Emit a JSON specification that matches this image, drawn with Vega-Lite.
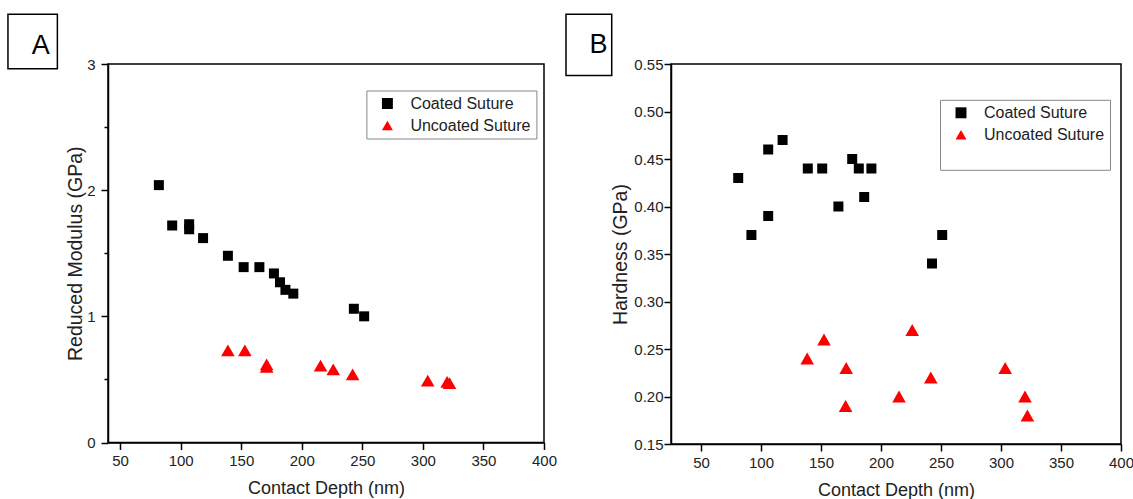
{
  "$schema": "https://vega.github.io/schema/vega-lite/v6.json",
  "background": "white",
  "padding": {"left": 6, "top": 12, "right": 0, "bottom": 0},
  "bounds": "flush",
  "spacing": 127,
  "config": {
    "view": {"stroke": "black", "strokeWidth": 1.5},
    "axis": {
      "labelFont": "Liberation Sans",
      "titleFont": "Liberation Sans",
      "labelFontSize": 15,
      "titleFontSize": 18,
      "labelColor": "#222222",
      "titleColor": "#222222",
      "titleFontWeight": "normal",
      "domainColor": "black",
      "domainWidth": 1.5,
      "tickColor": "black",
      "tickWidth": 1.5,
      "grid": false,
      "labelFlush": false,
      "labelOverlap": false
    },
    "legend": {
      "orient": "none",
      "title": null,
      "strokeColor": "#888888",
      "strokeWidth": 1,
      "padding": 5,
      "labelFont": "Liberation Sans",
      "labelFontSize": 16,
      "labelColor": "#222222",
      "symbolSize": 120,
      "symbolStrokeWidth": 0,
      "symbolOffset": 8,
      "labelOffset": 15,
      "rowPadding": 6
    }
  },
  "resolve": {
    "scale": {"color": "independent", "shape": "independent"},
    "legend": {"color": "independent", "shape": "independent"}
  },
  "hconcat": [
    {
      "width": 436,
      "height": 378.5,
      "data": {"values": [
        {"series": "Coated Suture", "depth": 82, "modulus": 2.04},
        {"series": "Coated Suture", "depth": 93, "modulus": 1.72},
        {"series": "Coated Suture", "depth": 107, "modulus": 1.73},
        {"series": "Coated Suture", "depth": 107, "modulus": 1.69},
        {"series": "Coated Suture", "depth": 118.5, "modulus": 1.62},
        {"series": "Coated Suture", "depth": 139, "modulus": 1.48},
        {"series": "Coated Suture", "depth": 152, "modulus": 1.39},
        {"series": "Coated Suture", "depth": 165, "modulus": 1.39},
        {"series": "Coated Suture", "depth": 177, "modulus": 1.34},
        {"series": "Coated Suture", "depth": 182, "modulus": 1.27},
        {"series": "Coated Suture", "depth": 186.5, "modulus": 1.21},
        {"series": "Coated Suture", "depth": 193, "modulus": 1.18},
        {"series": "Coated Suture", "depth": 243, "modulus": 1.06},
        {"series": "Coated Suture", "depth": 251.5, "modulus": 1.0},
        {"series": "Uncoated Suture", "depth": 139, "modulus": 0.73},
        {"series": "Uncoated Suture", "depth": 153, "modulus": 0.73},
        {"series": "Uncoated Suture", "depth": 171, "modulus": 0.62},
        {"series": "Uncoated Suture", "depth": 171, "modulus": 0.6},
        {"series": "Uncoated Suture", "depth": 215.5, "modulus": 0.61},
        {"series": "Uncoated Suture", "depth": 226, "modulus": 0.58},
        {"series": "Uncoated Suture", "depth": 242, "modulus": 0.54},
        {"series": "Uncoated Suture", "depth": 304, "modulus": 0.49},
        {"series": "Uncoated Suture", "depth": 320, "modulus": 0.48},
        {"series": "Uncoated Suture", "depth": 322, "modulus": 0.47}
      ]},
      "layer": [
        {
          "mark": {"type": "point", "filled": true, "opacity": 1, "strokeWidth": 0},
          "encoding": {
            "x": {
              "field": "depth", "type": "quantitative", "title": "Contact Depth (nm)",
              "scale": {"domain": [40, 400], "nice": false, "zero": false},
              "axis": {
                "values": [50, 75, 100, 125, 150, 175, 200, 225, 250, 275, 300, 325, 350, 375, 400],
                "format": "d",
                "labelExpr": "datum.value % 50 === 0 ? datum.label : ''",
                "tickSize": {"condition": {"test": "datum.value % 50 !== 0", "value": 4}, "value": 7},
                "labelPadding": 4,
                "titlePadding": 11
              }
            },
            "y": {
              "field": "modulus", "type": "quantitative", "title": "Reduced Modulus (GPa)",
              "scale": {"domain": [0, 3], "nice": false, "zero": false},
              "axis": {
                "values": [0, 0.5, 1, 1.5, 2, 2.5, 3],
                "format": ".0f",
                "labelExpr": "datum.value % 1 === 0 ? datum.label : ''",
                "tickSize": {"condition": {"test": "datum.value % 1 !== 0", "value": 4}, "value": 7},
                "labelPadding": 6,
                "titlePadding": 1,
                "titleFontSize": 19.5
              }
            },
            "color": {
              "field": "series", "type": "nominal",
              "scale": {"domain": ["Coated Suture", "Uncoated Suture"], "range": ["#000000", "#ff0000"]},
              "legend": {"orient": "none", "legendX": 258.4, "legendY": 26.5, "title": null}
            },
            "shape": {
              "field": "series", "type": "nominal",
              "scale": {"domain": ["Coated Suture", "Uncoated Suture"], "range": ["square", "triangle-up"]},
              "legend": {"orient": "none", "legendX": 258.4, "legendY": 26.5, "title": null}
            },
            "size": {"condition": {"test": "datum.series === 'Uncoated Suture'", "value": 185}, "value": 100}
          }
        },
        {
          "data": {"values": [{}]},
          "mark": {"type": "rect", "fill": "white", "stroke": "black", "strokeWidth": 1.5},
          "encoding": {
            "x": {"datum": -42.6, "type": "quantitative", "title": "Contact Depth (nm)"},
            "x2": {"datum": -1.8},
            "y": {"datum": 3.395, "type": "quantitative", "title": "Reduced Modulus (GPa)"},
            "y2": {"datum": 2.962}
          }
        },
        {
          "data": {"values": [{"label": "A"}]},
          "mark": {"type": "text", "font": "Liberation Sans", "fontSize": 27, "color": "black", "align": "center", "baseline": "middle"},
          "encoding": {
            "x": {"datum": -15.6, "type": "quantitative", "title": "Contact Depth (nm)"},
            "y": {"datum": 3.139, "type": "quantitative", "title": "Reduced Modulus (GPa)"},
            "text": {"field": "label"}
          }
        }
      ]
    },
    {
      "width": 450,
      "height": 380,
      "data": {"values": [
        {"series": "Coated Suture", "depth": 81, "hardness": 0.43},
        {"series": "Coated Suture", "depth": 92, "hardness": 0.37},
        {"series": "Coated Suture", "depth": 106, "hardness": 0.46},
        {"series": "Coated Suture", "depth": 106, "hardness": 0.39},
        {"series": "Coated Suture", "depth": 118, "hardness": 0.47},
        {"series": "Coated Suture", "depth": 139, "hardness": 0.44},
        {"series": "Coated Suture", "depth": 151, "hardness": 0.44},
        {"series": "Coated Suture", "depth": 164.5, "hardness": 0.4},
        {"series": "Coated Suture", "depth": 176, "hardness": 0.45},
        {"series": "Coated Suture", "depth": 181.5, "hardness": 0.44},
        {"series": "Coated Suture", "depth": 186, "hardness": 0.41},
        {"series": "Coated Suture", "depth": 192, "hardness": 0.44},
        {"series": "Coated Suture", "depth": 242.5, "hardness": 0.34},
        {"series": "Coated Suture", "depth": 251, "hardness": 0.37},
        {"series": "Uncoated Suture", "depth": 138.5, "hardness": 0.24},
        {"series": "Uncoated Suture", "depth": 152.5, "hardness": 0.26},
        {"series": "Uncoated Suture", "depth": 171, "hardness": 0.23},
        {"series": "Uncoated Suture", "depth": 170.5, "hardness": 0.19},
        {"series": "Uncoated Suture", "depth": 215, "hardness": 0.2},
        {"series": "Uncoated Suture", "depth": 226, "hardness": 0.27},
        {"series": "Uncoated Suture", "depth": 241.5, "hardness": 0.22},
        {"series": "Uncoated Suture", "depth": 303.5, "hardness": 0.23},
        {"series": "Uncoated Suture", "depth": 320, "hardness": 0.2},
        {"series": "Uncoated Suture", "depth": 322, "hardness": 0.18}
      ]},
      "layer": [
        {
          "mark": {"type": "point", "filled": true, "opacity": 1, "strokeWidth": 0},
          "encoding": {
            "x": {
              "field": "depth", "type": "quantitative", "title": "Contact Depth (nm)",
              "scale": {"domain": [25, 400], "nice": false, "zero": false},
              "axis": {
                "values": [50, 75, 100, 125, 150, 175, 200, 225, 250, 275, 300, 325, 350, 375, 400],
                "format": "d",
                "labelExpr": "datum.value % 50 === 0 ? datum.label : ''",
                "tickSize": {"condition": {"test": "datum.value % 50 !== 0", "value": 4}, "value": 7},
                "labelPadding": 4,
                "titlePadding": 11
              }
            },
            "y": {
              "field": "hardness", "type": "quantitative", "title": "Hardness (GPa)",
              "scale": {"domain": [0.15, 0.55], "nice": false, "zero": false},
              "axis": {
                "values": [0.15, 0.175, 0.2, 0.225, 0.25, 0.275, 0.3, 0.325, 0.35, 0.375, 0.4, 0.425, 0.45, 0.475, 0.5, 0.525, 0.55],
                "format": ".2f",
                "labelExpr": "round(datum.value * 1000) % 50 === 0 ? datum.label : ''",
                "tickSize": {"condition": {"test": "round(datum.value * 1000) % 50 !== 0", "value": 4}, "value": 7},
                "labelPadding": 1,
                "titlePadding": 3,
                "titleFontSize": 19.5
              }
            },
            "color": {
              "field": "series", "type": "nominal",
              "scale": {"domain": ["Coated Suture", "Uncoated Suture", " "], "range": ["#000000", "#ff0000", "rgba(0,0,0,0)"]},
              "legend": {"orient": "none", "legendX": 269, "legendY": 35.8, "title": null}
            },
            "shape": {
              "field": "series", "type": "nominal",
              "scale": {"domain": ["Coated Suture", "Uncoated Suture", " "], "range": ["square", "triangle-up", "square"]},
              "legend": {"orient": "none", "legendX": 269, "legendY": 35.8, "title": null}
            },
            "size": {"condition": {"test": "datum.series === 'Uncoated Suture'", "value": 185}, "value": 100}
          }
        },
        {
          "data": {"values": [{}]},
          "mark": {"type": "rect", "fill": "white", "stroke": "black", "strokeWidth": 1.5},
          "encoding": {
            "x": {"datum": -62.5, "type": "quantitative", "title": "Contact Depth (nm)"},
            "x2": {"datum": -24.4},
            "y": {"datum": 0.6024, "type": "quantitative", "title": "Hardness (GPa)"},
            "y2": {"datum": 0.5379}
          }
        },
        {
          "data": {"values": [{"label": "B"}]},
          "mark": {"type": "text", "font": "Liberation Sans", "fontSize": 27, "color": "black", "align": "center", "baseline": "middle"},
          "encoding": {
            "x": {"datum": -35.4, "type": "quantitative", "title": "Contact Depth (nm)"},
            "y": {"datum": 0.5695, "type": "quantitative", "title": "Hardness (GPa)"},
            "text": {"field": "label"}
          }
        }
      ]
    }
  ]
}
